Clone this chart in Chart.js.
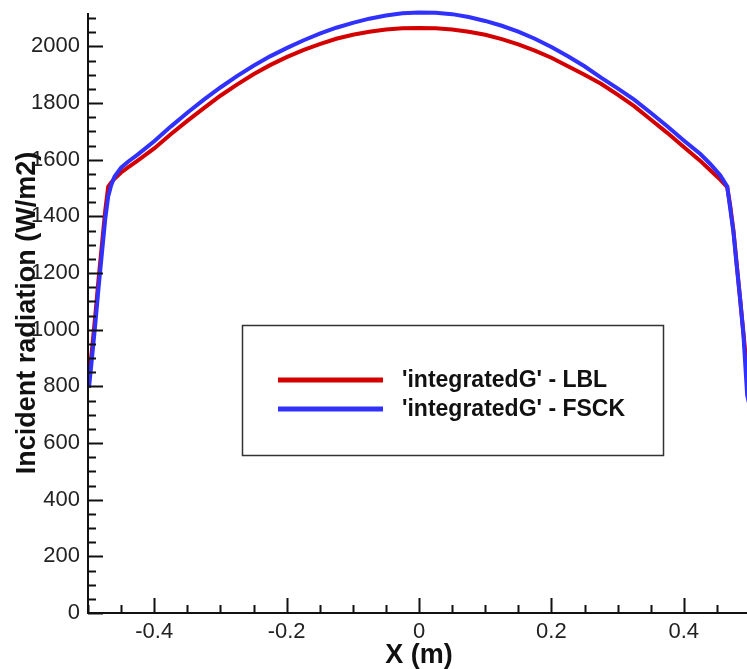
<!DOCTYPE html>
<html lang="en">
<head>
    <meta charset="UTF-8">
    <title>Incident radiation</title>
    <script src="https://cdn.jsdelivr.net/npm/chart.js"></script>
    <style>
        html, body { margin: 0; padding: 0; background: #fff; overflow: hidden; }
        #wrap { width: 750px; height: 669px; }
    </style>
</head>
<body>
    <div id="wrap"><canvas id="myChart" width="750" height="669"></canvas></div>

    <script>
        // positions along X (m)
        const xValues = [
            -0.4985, -0.494, -0.489, -0.484, -0.479, -0.474, -0.4695, -0.465, -0.46, -0.45,
            -0.44, -0.425, -0.40, -0.375, -0.35, -0.325, -0.30, -0.275, -0.25, -0.225,
            -0.20, -0.175, -0.15, -0.125, -0.10, -0.075, -0.05, -0.025, 0, 0.025,
            0.05, 0.075, 0.10, 0.125, 0.15, 0.175, 0.20, 0.225, 0.25, 0.275,
            0.30, 0.325, 0.35, 0.375, 0.40, 0.425, 0.44, 0.455, 0.4656, 0.47,
            0.475, 0.48, 0.485, 0.49, 0.4957, 0.4985
        ];
        // 'integratedG' - LBL
        const lblValues = [
            830, 930, 1050, 1180, 1300, 1420, 1505, 1520, 1533, 1555,
            1572, 1597, 1640, 1690, 1737, 1782, 1826, 1865, 1902, 1934,
            1962, 1987, 2008, 2027, 2041, 2052, 2060, 2064, 2065, 2064,
            2060, 2052, 2041, 2026, 2007, 1985, 1960, 1930, 1900, 1868,
            1830, 1789, 1742, 1695, 1645, 1596, 1563, 1530, 1503, 1440,
            1350, 1230, 1110, 990, 850, 780
        ];
        // 'integratedG' - FSCK
        const fsckValues = [
            795, 900, 1020, 1150, 1270, 1390, 1470, 1510, 1540, 1572,
            1592, 1618, 1665, 1717, 1766, 1812, 1855, 1895, 1932, 1965,
            1994, 2021, 2045, 2066, 2083, 2098, 2109, 2117, 2120, 2119,
            2114, 2104, 2090, 2073, 2052, 2027, 1998, 1965, 1930, 1890,
            1852, 1812, 1766, 1718, 1668, 1620, 1585, 1545, 1506, 1430,
            1345, 1225, 1110, 985, 770, 740
        ];
        const seriesLabels = ["'integratedG' - LBL", "'integratedG' - FSCK"];
        const xTickLabels = ['-0.4', '-0.2', '0', '0.2', '0.4'];
        const yTickLabels = ['0', '200', '400', '600', '800', '1000', '1200', '1400', '1600', '1800', '2000'];

        const toPoints = ys => xValues.map((x, i) => ({ x: x, y: ys[i] }));

        function fmtX(v) {
            const s = (Math.round(v * 10) / 10).toString();
            return s === '-0' ? '0' : s;
        }
        const isMajorX = v => Math.abs(v * 5 - Math.round(v * 5)) < 1e-6 && xTickLabels.includes(fmtX(v));

        // inward tick marks, axis lines, and the boxed legend
        const plotDecor = {
            id: 'plotDecor',
            afterDatasetsDraw(chart) {
                const ctx = chart.ctx;
                const a = chart.chartArea;
                const xs = chart.scales.x, ys = chart.scales.y;
                ctx.save();
                ctx.strokeStyle = '#111';
                ctx.lineWidth = 2;
                ctx.beginPath();
                ctx.moveTo(a.left, a.top);
                ctx.lineTo(a.left, a.bottom);
                ctx.lineTo(a.right, a.bottom);
                ctx.stroke();

                ctx.beginPath();
                xs.ticks.forEach(t => {
                    const px = Math.round(xs.getPixelForValue(t.value)) + 0.5;
                    const len = isMajorX(t.value) ? 15 : 8;
                    ctx.moveTo(px, a.bottom);
                    ctx.lineTo(px, a.bottom - len);
                });
                ys.ticks.forEach(t => {
                    const py = Math.round(ys.getPixelForValue(t.value)) + 0.5;
                    const len = t.value % 200 === 0 ? 15 : 8;
                    ctx.moveTo(a.left, py);
                    ctx.lineTo(a.left + len, py);
                });
                ctx.stroke();

                // legend box
                ctx.lineWidth = 1.5;
                ctx.strokeStyle = '#333';
                ctx.strokeRect(242.5, 325.5, 421, 130);
                ctx.font = 'bold 23px "Liberation Sans", Arial, sans-serif';
                ctx.textBaseline = 'middle';
                ctx.fillStyle = '#111';
                chart.data.datasets.forEach((ds, i) => {
                    const y = 380 + i * 29;
                    ctx.strokeStyle = ds.borderColor;
                    ctx.lineWidth = 5;
                    ctx.beginPath();
                    ctx.moveTo(278, y);
                    ctx.lineTo(383, y);
                    ctx.stroke();
                    ctx.fillText(ds.label, 402, y + 1);
                });
                ctx.restore();
            }
        };

        const noPad = s => { s.paddingTop = 0; s.paddingBottom = 0; s.paddingLeft = 0; s.paddingRight = 0; };

        const ctx = document.getElementById('myChart').getContext('2d');
        new Chart(ctx, {
            type: 'line',
            data: {
                datasets: [
                    {
                        label: seriesLabels[0],
                        data: toPoints(lblValues),
                        borderColor: 'rgb(212, 0, 0)',
                        borderWidth: 4,
                        pointRadius: 0,
                        fill: false,
                        tension: 0,
                        clip: false,
                        order: 1
                    },
                    {
                        label: seriesLabels[1],
                        data: toPoints(fsckValues),
                        borderColor: 'rgb(48, 48, 255)',
                        borderWidth: 4,
                        pointRadius: 0,
                        fill: false,
                        tension: 0,
                        clip: false,
                        order: 0
                    }
                ]
            },
            options: {
                responsive: false,
                animation: false,
                layout: { padding: { top: 13, right: 0, left: 0, bottom: 0 } },
                plugins: {
                    legend: { display: false },
                    tooltip: { enabled: false }
                },
                scales: {
                    x: {
                        type: 'linear',
                        min: -0.5,
                        max: 0.5,
                        grid: { display: false, drawTicks: false },
                        border: { display: false },
                        afterBuildTicks: s => {
                            s.ticks = [];
                            for (let i = -10; i <= 10; i++) s.ticks.push({ value: i * 0.05 });
                        },
                        afterFit: s => { s.height = 56; noPad(s); },
                        ticks: {
                            autoSkip: false,
                            maxRotation: 0,
                            padding: 6,
                            color: '#222',
                            font: { family: '"Liberation Sans", Arial, sans-serif', size: 22 },
                            callback: v => isMajorX(v) ? fmtX(v) : ''
                        },
                        title: {
                            display: true,
                            text: 'X (m)',
                            color: '#111',
                            padding: { top: 0, bottom: 0 },
                            font: { family: '"Liberation Sans", Arial, sans-serif', size: 27, weight: 'bold', lineHeight: 1 }
                        }
                    },
                    y: {
                        type: 'linear',
                        min: 0,
                        max: 2118,
                        grid: { display: false, drawTicks: false },
                        border: { display: false },
                        afterBuildTicks: s => {
                            s.ticks = [];
                            for (let v = 0; v <= 2100; v += 50) s.ticks.push({ value: v });
                        },
                        afterFit: s => { s.width = 88; noPad(s); },
                        ticks: {
                            autoSkip: false,
                            padding: 8,
                            color: '#222',
                            font: { family: '"Liberation Sans", Arial, sans-serif', size: 22 },
                            callback: v => {
                                const s = String(v);
                                return yTickLabels.includes(s) ? s : '';
                            }
                        },
                        title: {
                            display: true,
                            text: 'Incident radiation (W/m2)',
                            color: '#111',
                            padding: { top: 11, bottom: 0 },
                            font: { family: '"Liberation Sans", Arial, sans-serif', size: 27, weight: 'bold' }
                        }
                    }
                }
            },
            plugins: [plotDecor]
        });
    </script>
</body>
</html>
